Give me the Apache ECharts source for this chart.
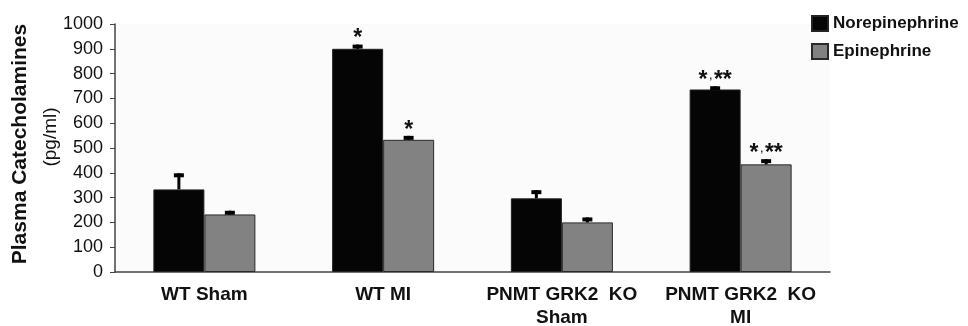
<!DOCTYPE html>
<html lang="en">
<head>
  <meta charset="UTF-8">
  <title>Plasma Catecholamines</title>
  <style>
    body { margin: 0; background: #fff; }
    #chart { width: 968px; height: 326px; }
  </style>
</head>
<body>
  <div id="chart"></div>
  <script src="https://cdn.jsdelivr.net/npm/echarts@6/dist/echarts.min.js"></script>
  <script>
    // data
    var groups = ['WT Sham', 'WT MI', 'PNMT GRK2  KO\nSham', 'PNMT GRK2  KO\nMI'];
    var norepi = [333, 900, 297, 736];
    var norepiErr = [65, 17, 33, 13];
    var epi = [232, 533, 200, 434];
    var epiErr = [15, 16, 20, 21];
    var norepiMarks = ['', '*', '', '*,**'];
    var epiMarks = ['', '*', '', '*,**'];
    var yTicks = [0, 100, 200, 300, 400, 500, 600, 700, 800, 900, 1000];

    var BAR_W = 51;
    var FONT = '"Liberation Sans", Arial, sans-serif';

    function markText(m) {
      // small low comma between the asterisk groups, as in the figure
      return m.split(',').map(function (p) { return '{a|' + p + '}'; }).join('{c|,}');
    }

    function errSeries(name, vals, errs, marks, shift) {
      return {
        type: 'custom',
        name: name + ' err',
        z: 5,
        renderItem: function (params, api) {
          var i = api.value(0);
          var base = api.coord([i, api.value(1)]);
          var top = api.coord([i, api.value(1) + api.value(2)]);
          var x = base[0] + shift;
          var kids = [{
            type: 'rect',
            shape: { x: x - 1.5, y: top[1], width: 3, height: base[1] - top[1] },
            style: { fill: '#000' }
          }, {
            type: 'rect',
            shape: { x: x - 5, y: top[1], width: 10, height: 4 },
            style: { fill: '#000' }
          }];
          if (marks[i]) {
            kids.push({
              type: 'text',
              style: {
                x: x, y: top[1] + 6,
                text: markText(marks[i]),
                align: 'center', verticalAlign: 'bottom',
                rich: {
                  a: { font: 'bold 23px ' + FONT, fill: '#111' },
                  c: { font: 'bold 9px ' + FONT, fill: '#111', padding: [0, 2, 9, 2] }
                }
              }
            });
          }
          return { type: 'group', children: kids };
        },
        data: vals.map(function (v, i) { return [i, v, errs[i]]; }),
        tooltip: { show: false }
      };
    }

    var option = {
      animation: false,
      textStyle: { fontFamily: FONT },
      grid: {
        left: 115, right: 138, top: 24, bottom: 54,
        containLabel: false, outerBoundsMode: 'none',
        show: true, backgroundColor: '#fbfbfb', borderWidth: 0
      },
      graphic: [{
        type: 'text',
        x: 20, y: 144,
        rotation: Math.PI / 2,
        style: {
          text: 'Plasma Catecholamines',
          font: 'bold 21px ' + FONT,
          fill: '#111', align: 'center', verticalAlign: 'middle'
        }
      }, {
        type: 'text',
        x: 51, y: 137,
        rotation: Math.PI / 2,
        style: {
          text: '(pg/ml)',
          font: '19px ' + FONT,
          fill: '#111', align: 'center', verticalAlign: 'middle'
        }
      }],
      legend: {
        orient: 'vertical',
        left: 806, top: 10,
        itemWidth: 16, itemHeight: 15, itemGap: 11,
        icon: 'rect',
        data: ['Norepinephrine', 'Epinephrine'],
        textStyle: { fontSize: 17, fontWeight: 'bold', color: '#111' }
      },
      xAxis: {
        type: 'category',
        data: groups,
        axisLine: { lineStyle: { color: '#444', width: 1.5 } },
        axisTick: { show: false },
        axisLabel: {
          fontSize: 19, fontWeight: 'bold', color: '#111',
          margin: 11, lineHeight: 23, interval: 0
        }
      },
      yAxis: {
        type: 'value',
        min: yTicks[0], max: yTicks[yTicks.length - 1], interval: 100,
        axisLine: { show: true, lineStyle: { color: '#444', width: 1.5 } },
        axisTick: { show: true, length: 5, lineStyle: { color: '#444' } },
        splitLine: { show: false },
        axisLabel: {
          fontSize: 18, color: '#111', margin: 12,
          formatter: function (v) { return String(v); }
        }
      },
      series: [{
        name: 'Norepinephrine',
        type: 'bar',
        data: norepi,
        barWidth: BAR_W,
        barGap: '0%',
        itemStyle: { color: '#050505', borderColor: '#222', borderWidth: 1 }
      }, {
        name: 'Epinephrine',
        type: 'bar',
        data: epi,
        barWidth: BAR_W,
        barGap: '0%',
        itemStyle: { color: '#828282', borderColor: '#2a2a2a', borderWidth: 1 }
      },
      errSeries('Norepinephrine', norepi, norepiErr, norepiMarks, -BAR_W / 2),
      errSeries('Epinephrine', epi, epiErr, epiMarks, BAR_W / 2)]
    };

    echarts.init(document.getElementById('chart')).setOption(option);
  </script>
</body>
</html>
